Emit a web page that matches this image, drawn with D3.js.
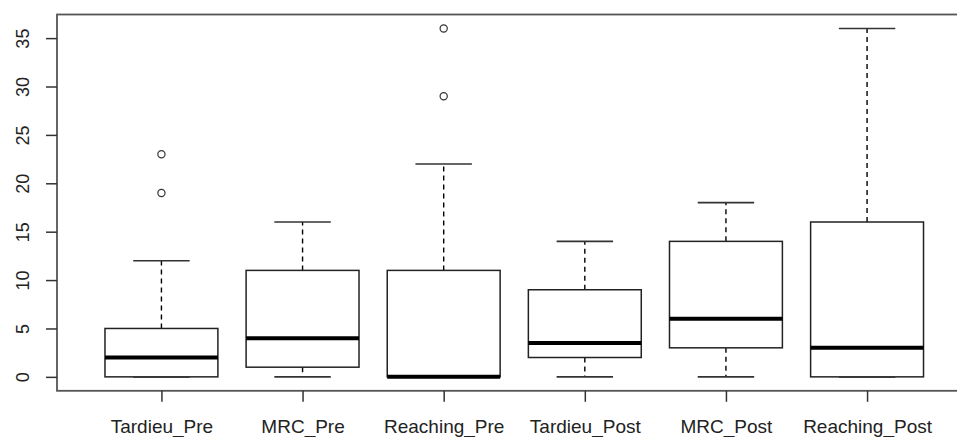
<!DOCTYPE html>
<html>
<head>
<meta charset="utf-8">
<script src="https://cdn.jsdelivr.net/npm/d3@7"></script>
<style>
html,body{margin:0;padding:0;background:#fff;}
svg{display:block;}
</style>
</head>
<body>
<svg id="chart" width="957" height="437"></svg>
<script>
const categories = ["Tardieu_Pre","MRC_Pre","Reaching_Pre","Tardieu_Post","MRC_Post","Reaching_Post"];
const whiskerLow = [0, 0, 0, 0, 0, 0];
const q1 = [0, 1, 0, 2, 3, 0];
const medians = [2, 4, 0, 3.5, 6, 3];
const q3 = [5, 11, 11, 9, 14, 16];
const whiskerHigh = [12, 16, 22, 14, 18, 36];
const outliers = [[19, 23], [], [29, 36], [], [], []];
const yTicks = [0, 5, 10, 15, 20, 25, 30, 35];

(function () {
const svg = d3.select("#chart");
const font = "'Liberation Sans', Arial, sans-serif";

// plot region (R style, extends slightly beyond right edge)
const pLeft = 57, pTop = 14.5, pBottom = 390.8, pRight = 971.5;
const x = d3.scaleLinear().domain([0.26, 6.74]).range([pLeft, pRight]);
const y = d3.scaleLinear().domain([-1.44, 37.44]).range([pBottom, pTop]);

const data = categories.map((c, i) => ({
  name: c, i: i + 1, lo: whiskerLow[i], q1: q1[i], med: medians[i],
  q3: q3[i], hi: whiskerHigh[i], out: outliers[i]
}));

const g = svg.append("g");

// whiskers (dashed)
g.selectAll(".wup").data(data).enter().append("line")
  .attr("x1", d => x(d.i)).attr("x2", d => x(d.i))
  .attr("y1", d => y(d.q3)).attr("y2", d => y(d.hi))
  .attr("stroke", "#000").attr("stroke-width", 1.4).attr("stroke-dasharray", "5,4");
g.selectAll(".wdn").data(data.filter(d => d.q1 > d.lo)).enter().append("line")
  .attr("x1", d => x(d.i)).attr("x2", d => x(d.i))
  .attr("y1", d => y(d.q1)).attr("y2", d => y(d.lo))
  .attr("stroke", "#000").attr("stroke-width", 1.4).attr("stroke-dasharray", "5,4");

// caps
const capHalf = 0.2;
g.selectAll(".capHi").data(data).enter().append("line")
  .attr("x1", d => x(d.i - capHalf)).attr("x2", d => x(d.i + capHalf))
  .attr("y1", d => y(d.hi)).attr("y2", d => y(d.hi))
  .attr("stroke", "#333").attr("stroke-width", 1.6);
g.selectAll(".capLo").data(data).enter().append("line")
  .attr("x1", d => x(d.i - capHalf)).attr("x2", d => x(d.i + capHalf))
  .attr("y1", d => y(d.lo)).attr("y2", d => y(d.lo))
  .attr("stroke", "#333").attr("stroke-width", 1.6);

// boxes
const boxHalf = 0.4;
g.selectAll(".box").data(data).enter().append("rect")
  .attr("x", d => x(d.i - boxHalf)).attr("width", d => x(d.i + boxHalf) - x(d.i - boxHalf))
  .attr("y", d => y(d.q3)).attr("height", d => y(d.q1) - y(d.q3))
  .attr("fill", "#fff").attr("stroke", "#222").attr("stroke-width", 1.5);

// medians
g.selectAll(".med").data(data).enter().append("line")
  .attr("x1", d => x(d.i - boxHalf)).attr("x2", d => x(d.i + boxHalf))
  .attr("y1", d => y(d.med)).attr("y2", d => y(d.med))
  .attr("stroke", "#000").attr("stroke-width", 4);

// outliers
const outPts = [];
data.forEach(d => d.out.forEach(v => outPts.push({i: d.i, v: v})));
g.selectAll(".out").data(outPts).enter().append("circle")
  .attr("cx", d => x(d.i)).attr("cy", d => y(d.v)).attr("r", 3.6)
  .attr("fill", "none").attr("stroke", "#333").attr("stroke-width", 1.2);

// frame
svg.append("rect")
  .attr("x", pLeft).attr("y", pTop).attr("width", pRight - pLeft).attr("height", pBottom - pTop)
  .attr("fill", "none").attr("stroke", "#555").attr("stroke-width", 1.8);

// y axis
const yAxis = d3.axisLeft(y).tickValues(yTicks).tickSize(11).tickPadding(0).tickFormat(d3.format("d"));
const ya = svg.append("g").attr("transform", `translate(${pLeft},0)`).call(yAxis);
ya.select(".domain").remove();
ya.selectAll(".tick line").attr("stroke", "#333").attr("stroke-width", 1.5);
ya.selectAll(".tick text")
  .attr("transform", "rotate(-90)")
  .attr("x", 0).attr("y", -28)
  .attr("dy", 0)
  .attr("text-anchor", "middle")
  .attr("font-family", font).attr("font-size", 18).attr("fill", "#222");

// x axis
const xAxis = d3.axisBottom(x).tickValues(d3.range(1, categories.length + 1))
  .tickSize(11).tickPadding(0).tickFormat(d => categories[d - 1]);
const xa = svg.append("g").attr("transform", `translate(0,${pBottom})`).call(xAxis);
xa.select(".domain").remove();
xa.selectAll(".tick line").attr("stroke", "#333").attr("stroke-width", 1.5);
xa.selectAll(".tick text")
  .attr("y", 42).attr("dy", 0)
  .attr("font-family", font).attr("font-size", 19).attr("fill", "#222");
})();
</script>
</body>
</html>
